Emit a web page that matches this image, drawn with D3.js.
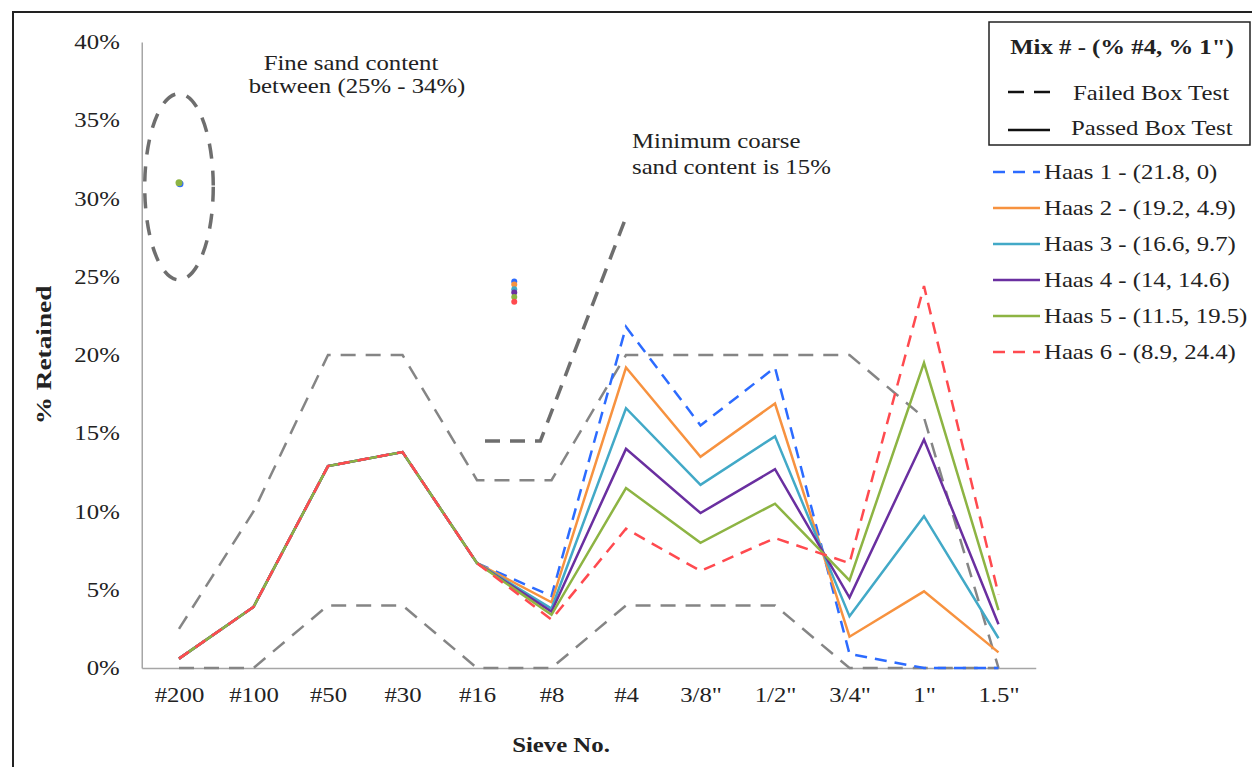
<!DOCTYPE html>
<html lang="en">
<head>
    <meta charset="UTF-8">
    <title>Sieve analysis - Haas mixes</title>
    <script src="https://cdn.jsdelivr.net/npm/d3@7"></script>
    <style>
        body{ margin:0; background:#fff; }
        text{ font-family: "Liberation Serif", "Times New Roman", serif; fill:#222; }
        .tick text{ font-size:21px; }
        .axis path{ stroke:#a6a6a6; stroke-width:1.5; }
        .axisTitle{ font-size:21px; font-weight:bold; }
        .note{ font-size:21px; }
        .legend text{ font-size:21px; }
    </style>
</head>
<body>
<div class="container"></div>
<script>
    ////////////////////////////////////////////////////////////////
    /*                        Data                               */
    ////////////////////////////////////////////////////////////////
    const sieves = ["#200","#100","#50","#30","#16","#8","#4","3/8\"","1/2\"","3/4\"","1\"","1.5\""];

    const mixNames = ["Haas 1 - (21.8, 0)","Haas 2 - (19.2, 4.9)","Haas 3 - (16.6, 9.7)",
                      "Haas 4 - (14, 14.6)","Haas 5 - (11.5, 19.5)","Haas 6 - (8.9, 24.4)"];
    const mixColors = ["#2c6bff","#f7923f","#42a9c7","#6a2fa0","#8db443","#ff4a4f"];
    const mixDashed = [true,false,false,false,false,true];

    const haas1 = [0.6,3.9,12.9,13.8,6.7,4.6,21.8,15.5,19.2,0.9,0.0,0.0];
    const haas2 = [0.6,3.9,12.9,13.8,6.7,4.2,19.2,13.5,16.9,2.0,4.9,1.0];
    const haas3 = [0.6,3.9,12.9,13.8,6.7,3.8,16.6,11.7,14.8,3.3,9.7,1.9];
    const haas4 = [0.6,3.9,12.9,13.8,6.7,3.6,14.0,9.9,12.7,4.5,14.6,2.8];
    const haas5 = [0.6,3.9,12.9,13.8,6.7,3.4,11.5,8.0,10.5,5.6,19.5,3.7];
    const haas6 = [0.6,3.9,12.9,13.8,6.7,3.1,8.9,6.2,8.3,6.7,24.4,4.7];
    const mixes = [haas1,haas2,haas3,haas4,haas5,haas6];

    // specification band (grey dashed)
    const upperLimit = [2.5,10,20,20,12,12,20,20,20,20,16,0];
    const lowerLimit = [0,0,4,4,0,0,4,4,4,0,0,0];

    // minimum coarse sand marker: [sieve index, %]
    const coarseLine = [[4.0,14.5],[4.85,14.5],[6.0,28.8]];

    // stray markers
    const fineDots = [31.0,31.0];                 // at #200, blue then green
    const fineDotColors = ["#2c6bff","#8db443"];
    const midDots = [24.7,24.5,24.2,24.0,23.7,23.4]; // between #16 and #8
    const midDotX = 4.5;

    // fine sand ellipse: centre at #200
    const ellipseCenter = 30.75, ellipseHalf = 5.95, ellipseHalfW = 0.46;

    const yTicks = [0,5,10,15,20,25,30,35,40];

    ////////////////////////////////////////////////////////////////
    /*                  Layout and scales                        */
    ////////////////////////////////////////////////////////////////
    const width = 1252, height = 767;
    const plot = {left:141.75, right:1035.75, top:42, bottom:668};
    const stretch = 1.18;   // the source picture is widened horizontally

    const svg = d3.select(".container").append("svg")
        .attr("width",width).attr("height",height);

    const x = d3.scalePoint().domain(sieves).range([plot.left,plot.right]).padding(0.5);
    const xi = d3.scaleLinear().domain([0,sieves.length-1]).range([x(sieves[0]),x(sieves[sieves.length-1])]);
    const y = d3.scaleLinear().domain([0,40]).range([plot.bottom,plot.top]);

    // widen a text about its own anchor point
    function widen(sel){
        sel.each(function(){
            const t = d3.select(this);
            const tx = +t.attr("x")||0, ty = +t.attr("y")||0;
            t.attr("transform",`translate(${tx},${ty}) scale(${stretch},1) translate(${-tx},${-ty})`);
        });
    }

    // outer frame
    svg.append("rect").attr("x",13).attr("y",12).attr("width",1250).attr("height",780)
        .attr("fill","none").attr("stroke","#222").attr("stroke-width",2);

    // axes
    svg.append("g").attr("class","axis")
        .attr("transform",`translate(${plot.left},0)`)
        .call(d3.axisLeft(y).tickValues(yTicks).tickFormat(d=>d+"%").tickSize(0).tickPadding(22));
    svg.append("g").attr("class","axis")
        .attr("transform",`translate(0,${plot.bottom})`)
        .call(d3.axisBottom(x).tickSize(0).tickPadding(19));
    widen(svg.selectAll(".tick text"));

    widen(svg.append("text").attr("class","axisTitle")
        .attr("x",561).attr("y",752).attr("text-anchor","middle").text("Sieve No."));
    svg.append("text").attr("class","axisTitle")
        .attr("transform",`translate(51,355) rotate(-90) scale(1.3,1)`)
        .attr("text-anchor","middle").text("% Retained");

    ////////////////////////////////////////////////////////////////
    /*                        Lines                              */
    ////////////////////////////////////////////////////////////////
    const line = d3.line().x((d,i)=>x(sieves[i])).y(d=>y(d));

    [upperLimit,lowerLimit].forEach(arr=>{
        svg.append("path").attr("d",line(arr)).attr("fill","none")
            .attr("stroke","#858585").attr("stroke-width",2.5).attr("stroke-dasharray","15,10");
    });

    svg.append("path")
        .attr("d",d3.line().x(d=>xi(d[0])).y(d=>y(d[1]))(coarseLine))
        .attr("fill","none").attr("stroke","#6e6e6e").attr("stroke-width",3.5)
        .attr("stroke-dasharray","15,10").attr("stroke-dashoffset",-8);

    svg.append("ellipse")
        .attr("cx",x(sieves[0])).attr("cy",y(ellipseCenter))
        .attr("rx",xi(ellipseHalfW)-xi(0))
        .attr("ry",y(ellipseCenter-ellipseHalf)-y(ellipseCenter))
        .attr("fill","none").attr("stroke","#6e6e6e").attr("stroke-width",3.5)
        .attr("stroke-dasharray","15,12");

    mixes.forEach((arr,k)=>{
        svg.append("path").attr("d",line(arr)).attr("fill","none")
            .attr("stroke",mixColors[k]).attr("stroke-width",2.5)
            .attr("stroke-dasharray",mixDashed[k]?"12,8":null);
    });

    // markers
    svg.selectAll(".fineDot").data(fineDots).join("circle")
        .attr("cx",(d,i)=>x(sieves[0])+(i===0?1:0)).attr("cy",(d,i)=>y(d)+(i===0?1:0)).attr("r",3.5)
        .attr("fill",(d,i)=>fineDotColors[i]);
    svg.selectAll(".midDot").data(midDots).join("circle")
        .attr("cx",xi(midDotX)).attr("cy",d=>y(d)).attr("r",3)
        .attr("fill",(d,i)=>mixColors[i]);

    ////////////////////////////////////////////////////////////////
    /*                    Annotations                            */
    ////////////////////////////////////////////////////////////////
    widen(svg.append("text").attr("class","note").attr("text-anchor","middle")
        .attr("x",351).attr("y",70).text("Fine sand content"));
    widen(svg.append("text").attr("class","note").attr("text-anchor","middle")
        .attr("x",357).attr("y",93).text("between (25% - 34%)"));
    widen(svg.append("text").attr("class","note")
        .attr("x",632).attr("y",148).text("Minimum coarse"));
    widen(svg.append("text").attr("class","note")
        .attr("x",632).attr("y",174).text("sand content is 15%"));

    ////////////////////////////////////////////////////////////////
    /*                       Legend                              */
    ////////////////////////////////////////////////////////////////
    const legend = svg.append("g").attr("class","legend");
    legend.append("rect").attr("x",989).attr("y",22).attr("width",261).attr("height",123)
        .attr("fill","#fff").attr("stroke","#222").attr("stroke-width",1.5);
    legend.append("text").attr("x",1122).attr("y",54).attr("text-anchor","middle")
        .attr("font-weight","bold").text("Mix # - (% #4, % 1\")");
    legend.append("line").attr("x1",1008).attr("x2",1057).attr("y1",92).attr("y2",92)
        .attr("stroke","#111").attr("stroke-width",2.5).attr("stroke-dasharray","16,10");
    legend.append("text").attr("x",1073).attr("y",100).text("Failed Box Test");
    legend.append("line").attr("x1",1008).attr("x2",1050).attr("y1",130).attr("y2",130)
        .attr("stroke","#111").attr("stroke-width",2.5);
    legend.append("text").attr("x",1071).attr("y",135).text("Passed Box Test");

    const rows = legend.selectAll(".row").data(mixNames).join("g")
        .attr("transform",(d,i)=>`translate(0,${172+i*36})`);
    rows.append("line").attr("x1",993).attr("x2",1040).attr("y1",0).attr("y2",0)
        .attr("stroke",(d,i)=>mixColors[i]).attr("stroke-width",2.5)
        .attr("stroke-dasharray",(d,i)=>mixDashed[i]?"12,8":null);
    rows.append("text").attr("x",1044).attr("y",7).text(d=>d);
    widen(legend.selectAll("text"));
</script>
</body>
</html>
